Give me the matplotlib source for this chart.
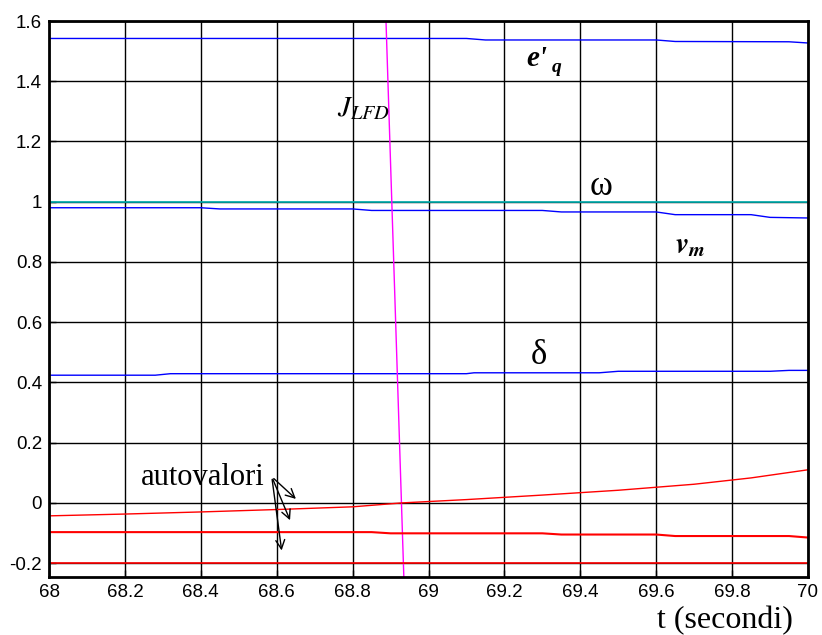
import matplotlib
matplotlib.use("Agg")
import matplotlib.pyplot as plt

# time axis (seconds)
t_eq = [68.0, 69.1, 69.15, 69.6, 69.65, 69.95, 70.0]
eq = [1.542, 1.542, 1.537, 1.537, 1.532, 1.531, 1.527]

t_w = [68.0, 70.0]
omega = [1.0, 1.0]

t_vm = [68.0, 68.4, 68.45, 68.8, 68.85, 69.3, 69.35, 69.6, 69.65, 69.85, 69.9, 70.0]
vm = [0.980, 0.980, 0.976, 0.976, 0.971, 0.971, 0.966, 0.966, 0.957, 0.957, 0.948, 0.946]

t_d = [68.0, 68.28, 68.32, 69.1, 69.12, 69.45, 69.5, 69.9, 69.95, 70.0]
delta = [0.424, 0.424, 0.429, 0.429, 0.432, 0.432, 0.437, 0.437, 0.440, 0.440]

t_j = [68.888, 68.935]
jlfd = [1.6, -0.246]

t_e1 = [68.0, 68.2, 68.4, 68.6, 68.8, 68.93, 69.1, 69.3, 69.5, 69.7, 69.85, 70.0]
eig1 = [-0.043, -0.037, -0.030, -0.022, -0.013, 0.0, 0.011, 0.026, 0.042, 0.062, 0.083, 0.110]

t_e2 = [68.0, 68.85, 68.9, 69.3, 69.35, 69.6, 69.65, 69.95, 70.0]
eig2 = [-0.097, -0.097, -0.101, -0.101, -0.105, -0.105, -0.110, -0.110, -0.115]

t_e3 = [68.0, 70.0]
eig3 = [-0.2, -0.2]

xticks = [68, 68.2, 68.4, 68.6, 68.8, 69, 69.2, 69.4, 69.6, 69.8, 70]
yticks = [-0.2, 0, 0.2, 0.4, 0.6, 0.8, 1, 1.2, 1.4, 1.6]

plt.rcParams['font.family'] = ['Liberation Sans', 'DejaVu Sans']
plt.rcParams['mathtext.fontset'] = 'stix'
fig = plt.figure(figsize=(8.22, 6.35), dpi=100)
ax = fig.add_axes([49/822, 1-577/635, 759/822, 556/635])

ax.plot(t_eq, eq, color='#0000ff', lw=1)
ax.plot(t_w, omega, color='#00b0b0', lw=1.2)
ax.plot(t_vm, vm, color='#0000ff', lw=1)
ax.plot(t_d, delta, color='#0000ff', lw=1)
ax.plot(t_j, jlfd, color='#ff00ff', lw=1)
ax.plot(t_e1, eig1, color='#ff0000', lw=1)
ax.plot(t_e2, eig2, color='#ff0000', lw=1.5)
ax.plot(t_e3, eig3, color='#ff0000', lw=1.2)

ax.set_xlim(68, 70)
ax.set_ylim(-0.246, 1.6)
ax.set_xticks(xticks)
ax.set_xticklabels(['68', '68.2', '68.4', '68.6', '68.8', '69', '69.2', '69.4', '69.6', '69.8', '70'])
ax.set_yticks(yticks)
ax.set_yticklabels(['-0.2', '0', '0.2', '0.4', '0.6', '0.8', '1', '1.2', '1.4', '1.6'])
ax.tick_params(labelsize=13.5, direction='in', length=5, width=1, pad=5)
ax.grid(True, color='black', lw=1)
for s in ax.spines.values():
    s.set_linewidth(2)

# e'_q label: bold italic serif with straight prime, subscript q
ax.text(69.285, 1.475, "e'", fontsize=21, ha='center', va='center',
        family=['Liberation Serif'], weight='bold', style='italic')
ax.text(69.337, 1.445, "q", fontsize=14, ha='center', va='center',
        family=['Liberation Serif'], weight='bold', style='italic')
ax.text(68.83, 1.31, r"$J_{LFD}$", fontsize=21, ha='center', va='center')
ax.text(69.455, 1.05, "ω", fontsize=25, ha='center', va='center', family=['Liberation Serif'])
ax.text(69.69, 0.855, r"$\boldsymbol{v}_{\boldsymbol{m}}$", fontsize=21, ha='center', va='center')
ax.text(69.29, 0.49, "δ", fontsize=25, ha='center', va='center', family=['Liberation Serif'])
ax.text(68.405, 0.083, "autovalori", fontsize=22, ha='center', va='center',
        family=['Liberation Serif'])

arrow_from = (68.587, 0.087)
arrow_tips = [(68.656, 0.007), (68.638, -0.066), (68.614, -0.167)]
for tip in arrow_tips:
    ax.annotate('', xy=tip, xytext=arrow_from,
                arrowprops=dict(arrowstyle='->', color='black', lw=1, mutation_scale=16))

fig.text(725/822, 1-621/635, "t (secondi)", fontsize=23, ha='center', va='center',
         family=['Liberation Serif'])

fig.savefig("out.png", dpi=100)
